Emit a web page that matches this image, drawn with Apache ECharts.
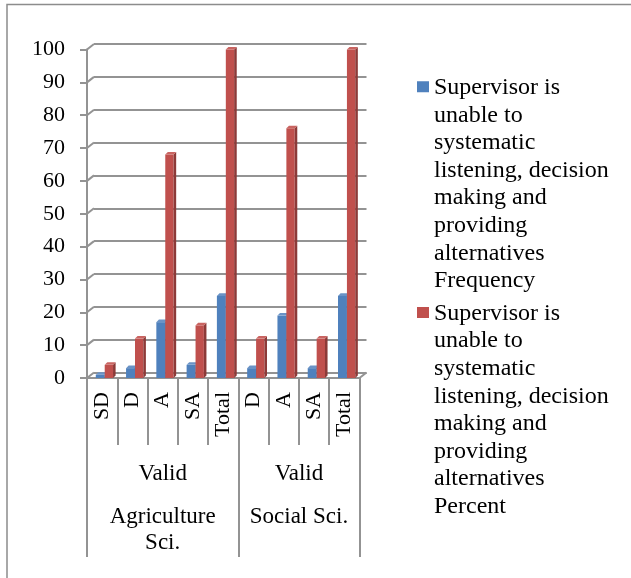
<!DOCTYPE html>
<html>
<head>
<meta charset="utf-8">
<script src="https://cdn.jsdelivr.net/npm/echarts@6/dist/echarts.min.js"></script>
<style>
  html, body { margin: 0; padding: 0; background: #fff; }
  #chart { width: 631px; height: 578px; }
</style>
</head>
<body>
<div id="chart"></div>
<script>
// Responses per answer category, grouped by faculty
const categories = ['SD', 'D', 'A', 'SA', 'Total', 'D', 'A', 'SA', 'Total'];
const validLabels = ['Valid', 'Valid'];
const groupLabels = ['Agriculture\nSci.', 'Social Sci.'];
const groupSizes = [5, 4];

const frequency = [1, 3, 17, 4, 25, 3, 19, 3, 25];
const percent = [4, 12, 68, 16, 100, 12, 76, 12, 100];

const yTicks = [0, 10, 20, 30, 40, 50, 60, 70, 80, 90, 100];

const legendFrequency = ['Supervisor is', 'unable to', 'systematic', 'listening, decision',
  'making and', 'providing', 'alternatives', 'Frequency'];
const legendPercent = ['Supervisor is', 'unable to', 'systematic', 'listening, decision',
  'making and', 'providing', 'alternatives', 'Percent'];

// ---- styling ----
const FONT = "'Liberation Serif', 'Times New Roman', serif";
const LINE = '#939393';
const LINE_W = 2;
const DX = 7, DY = 5.5;          // depth offset of the back wall
const LEGEND_LH = 27.6;

const nameFreq = legendFrequency.join('\n');
const namePct = legendPercent.join('\n');

// Half-step positions (boundaryGap false) used for the grouped label rows
const halfCount = categories.length * 2 + 1;
function halfAxisData(labels) {
  const arr = new Array(halfCount).fill('');
  let start = 0;
  groupSizes.forEach((n, g) => {
    arr[2 * start + n] = labels[g];
    start += n;
  });
  return arr;
}
const dividerIdx = [];
{
  let start = 0;
  dividerIdx.push(0);
  groupSizes.forEach(n => { start += n; dividerIdx.push(2 * start); });
}

// 3D-looking column: front face, right side face and top face
function bar3d(front, side, topC, startFrac, endFrac) {
  return function (params, api) {
    const idx = api.value(0);
    const top = api.coord([idx, api.value(1)]);
    const base = api.coord([idx, 0]);
    const w = api.size([1, 0])[0];
    const left = top[0] - w / 2;
    const x0 = left + w * startFrac;
    const x1 = left + w * endFrac;
    const d = w * 0.085;
    const yT = top[1], yB = base[1];
    return {
      type: 'group',
      children: [
        { type: 'rect', shape: { x: x0, y: yT, width: x1 - x0, height: yB - yT }, style: { fill: front } },
        { type: 'polygon', shape: { points: [[x1, yT], [x1 + d, yT - d], [x1 + d, yB - d], [x1, yB]] }, style: { fill: side } },
        { type: 'polygon', shape: { points: [[x0, yT], [x0 + d, yT - d], [x1 + d, yT - d], [x1, yT]] }, style: { fill: topC } }
      ]
    };
  };
}

// Slanted links between the front value axis and the back wall gridlines
function wallLinks(params, api) {
  const v = api.value(1);
  const p = api.coord([0, v]);
  const w = api.size([1, 0])[0];
  const xl = p[0] - w / 2;
  const y = p[1];
  const children = [
    { type: 'line', shape: { x1: xl, y1: y, x2: xl + DX, y2: y - DY }, style: { stroke: LINE, lineWidth: LINE_W } }
  ];
  if (v === 0) {
    const xr = api.coord([categories.length - 1, 0])[0] + w / 2;
    children.push({ type: 'line', shape: { x1: xr, y1: y, x2: xr + DX, y2: y - DY }, style: { stroke: LINE, lineWidth: LINE_W } });
  }
  return { type: 'group', children };
}

const legendIconH = LEGEND_LH * legendFrequency.length;
const sqTop = LEGEND_LH / 2 - 5.5 - 1;
const legendIcon = 'path://M0,0h0M0,' + sqTop + 'h12v11h-12zM12,' + legendIconH + 'h0';

const G_LEFT = 87, G_RIGHT = 271.5, G_TOP = 49.5, G_BOTTOM = 200;

const option = {
  animation: false,
  backgroundColor: '#ffffff',
  graphic: [{
    type: 'rect',
    shape: { x: 7, y: 4.5, width: 700, height: 700 },
    style: { fill: 'none', stroke: '#8c8c8c', lineWidth: 1.5 },
    silent: true
  }],
  legend: {
    orient: 'vertical',
    left: 417,
    top: 74,
    padding: 0,
    itemGap: 5,
    itemWidth: 12,
    itemHeight: legendIconH,
    icon: legendIcon,
    itemStyle: { borderWidth: 0 },
    textStyle: { fontFamily: FONT, fontSize: 24, color: '#000', lineHeight: LEGEND_LH },
    data: [nameFreq, namePct]
  },
  grid: [
    { left: G_LEFT, right: G_RIGHT, top: G_TOP, bottom: G_BOTTOM, outerBoundsMode: 'none', containLabel: false },
    { left: G_LEFT + DX, right: G_RIGHT - DX, top: G_TOP - DY, bottom: G_BOTTOM + DY, outerBoundsMode: 'none', containLabel: false }
  ],
  xAxis: [
    {
      type: 'category', gridIndex: 0, position: 'bottom', data: categories,
      axisLine: { show: true, onZero: false, lineStyle: { color: LINE, width: LINE_W } },
      axisTick: { show: true, interval: 0, length: 67, lineStyle: { color: LINE, width: LINE_W } },
      axisLabel: { interval: 0, rotate: 90, margin: 14, fontFamily: FONT, fontSize: 22, color: '#000' },
      splitLine: { show: false }
    },
    {
      type: 'category', gridIndex: 0, position: 'bottom', boundaryGap: false,
      data: halfAxisData(validLabels),
      axisLine: { show: false },
      axisTick: { show: true, interval: (i) => dividerIdx.indexOf(i) >= 0, length: 179, lineStyle: { color: LINE, width: LINE_W } },
      axisLabel: { interval: 0, margin: 82.5, fontFamily: FONT, fontSize: 23, color: '#000', lineHeight: 27.5 },
      splitLine: { show: false }
    },
    {
      type: 'category', gridIndex: 0, position: 'bottom', boundaryGap: false,
      data: halfAxisData(groupLabels),
      axisLine: { show: false },
      axisTick: { show: false },
      axisLabel: { interval: 0, margin: 125.4, fontFamily: FONT, fontSize: 23, color: '#000', lineHeight: 26.6 },
      splitLine: { show: false }
    },
    {
      type: 'value', gridIndex: 1, min: 0, max: 1, show: false
    }
  ],
  yAxis: [
    {
      type: 'value', gridIndex: 0, min: 0, max: 100, interval: 10,
      axisLine: { show: true, lineStyle: { color: LINE, width: LINE_W } },
      axisTick: { show: true, length: 7, lineStyle: { color: LINE, width: LINE_W } },
      axisLabel: { margin: 22, fontFamily: FONT, fontSize: 22, color: '#000' },
      splitLine: { show: false }
    },
    {
      type: 'value', gridIndex: 1, min: 0, max: 100, interval: 10,
      axisLine: { show: false }, axisTick: { show: false }, axisLabel: { show: false },
      splitLine: { show: true, lineStyle: { color: LINE, width: LINE_W } }
    }
  ],
  series: [
    {
      type: 'custom', name: 'wall', xAxisIndex: 0, yAxisIndex: 0, clip: false, silent: true, z: 1,
      renderItem: wallLinks,
      data: yTicks.map(v => [0, v])
    },
    {
      type: 'custom', name: nameFreq, xAxisIndex: 0, yAxisIndex: 0, clip: false, z: 3,
      itemStyle: { color: '#4F81BD' },
      renderItem: bar3d('#4F81BD', '#385D8A', '#6A93C6', 0.29, 0.585),
      data: frequency.map((v, i) => [i, v])
    },
    {
      type: 'custom', name: namePct, xAxisIndex: 0, yAxisIndex: 0, clip: false, z: 4,
      itemStyle: { color: '#C0504D' },
      renderItem: bar3d('#C0504D', '#8C3A38', '#C96461', 0.585, 0.86),
      data: percent.map((v, i) => [i, v])
    }
  ]
};

const chart = echarts.init(document.getElementById('chart'), null, { renderer: 'canvas' });
chart.setOption(option);
</script>
</body>
</html>
